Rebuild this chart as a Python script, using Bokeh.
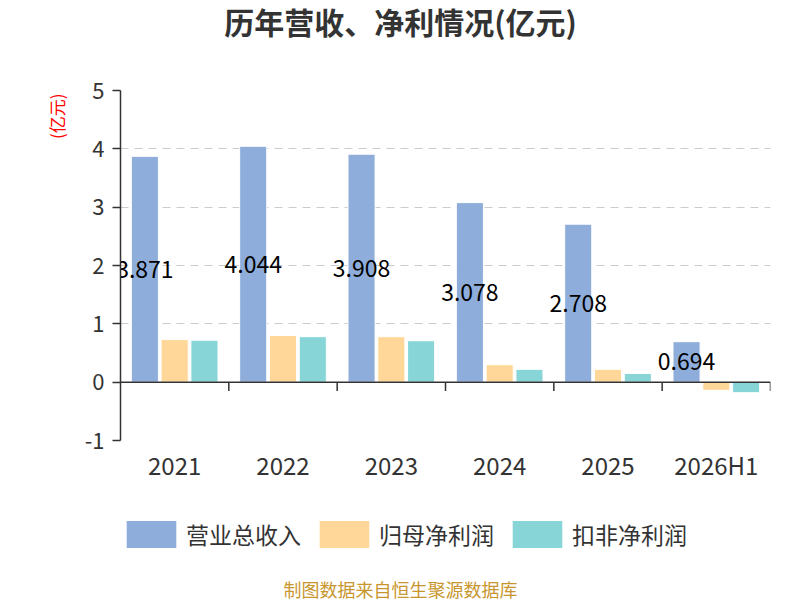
from bokeh.plotting import figure
from bokeh.layouts import column
from bokeh.models import (ColumnDataSource, FactorRange, Range1d, Span, Label,
                          Legend, LegendItem, SingleIntervalTicker, Title)
from bokeh.transform import dodge
from bokeh.core.properties import value
from bokeh.embed import file_html
from bokeh.resources import INLINE

years = ["2021", "2022", "2023", "2024", "2025", "2026H1"]
revenue = [3.871, 4.044, 3.908, 3.078, 2.708, 0.694]
net_profit = [0.73, 0.80, 0.78, 0.30, 0.22, -0.14]
deducted_profit = [0.72, 0.78, 0.71, 0.22, 0.15, -0.18]
series_names = ["营业总收入", "归母净利润", "扣非净利润"]
colors = ["#8EADDB", "#FFD899", "#88D5D8"]
title_text = "历年营收、净利情况(亿元)"
unit_text = "(亿元)"
source_text = "制图数据来自恒生聚源数据库"

FONT = "Noto Sans CJK SC"
W = 800
LEFT, RIGHT = 120, 30          # frame borders (shared by all three strips)
FX = Range1d(LEFT, W - RIGHT)   # pixel-like x range for the text strips

# ---------- top strip: title ----------
TOP_H = 60
p_top = figure(width=W, height=TOP_H, x_range=FX, y_range=Range1d(0, TOP_H),
               x_axis_type=None, y_axis_type=None, output_backend="svg",
               toolbar_location=None, min_border=0,
               min_border_left=LEFT, min_border_right=RIGHT)
p_top.outline_line_color = None
p_top.grid.visible = False
p_top.add_layout(Label(x=W / 2, y=TOP_H - 20, text=title_text, text_align="center",
                       text_baseline="middle", text_font_size="30px",
                       text_font_style="bold", text_color="#333333",
                       text_font=FONT))

# ---------- main chart ----------
src = ColumnDataSource(dict(
    year=years, rev=revenue, np=net_profit, kf=deducted_profit,
    half=[v / 2 for v in revenue],
    lbl=[f"{v:.3f}" for v in revenue],
))

p = figure(width=W, height=435,
           x_range=FactorRange(*years), y_range=Range1d(-1, 5),
           output_backend="svg", toolbar_location=None,
           min_border_left=LEFT, min_border_right=RIGHT,
           min_border_top=30, min_border_bottom=55)
p.outline_line_color = None
p.xgrid.grid_line_color = None
p.ygrid.grid_line_color = "#cccccc"
p.ygrid.grid_line_dash = "8 6"
p.ygrid.grid_line_width = 1.2

p.yaxis.ticker = SingleIntervalTicker(interval=1)
p.yaxis.major_label_overrides = {-1: "-1"}
p.yaxis.axis_line_color = "#333333"
p.yaxis.axis_line_width = 1.5
p.yaxis.major_tick_line_color = "#333333"
p.yaxis.major_tick_line_width = 1.5
p.yaxis.major_tick_out = 8
p.yaxis.major_tick_in = 0
p.yaxis.minor_tick_line_color = None
p.yaxis.major_label_text_font_size = "22px"
p.yaxis.major_label_text_color = "#333333"
p.yaxis.major_label_text_font = FONT
p.yaxis.major_label_standoff = 8

p.xaxis.axis_line_color = None
p.xaxis.major_tick_line_color = None
p.xaxis.minor_tick_line_color = None
p.xaxis.major_label_text_font_size = "24px"
p.xaxis.major_label_text_color = "#333333"
p.xaxis.major_label_text_font = FONT
p.xaxis.major_label_standoff = 0

p.add_layout(Title(text=unit_text, align="right", offset=3, text_color="red",
                   text_font_size="17px", text_font_style="normal",
                   text_font=FONT, vertical_align="middle", standoff=24), "left")

w = 0.25
p.vbar(x=dodge("year", -0.275, range=p.x_range), top="rev", width=w, source=src,
       fill_color=colors[0], line_color="white", line_width=1)
p.vbar(x=dodge("year", 0.0, range=p.x_range), top="np", width=w, source=src,
       fill_color=colors[1], line_color="white", line_width=1)
p.vbar(x=dodge("year", 0.275, range=p.x_range), top="kf", width=w, source=src,
       fill_color=colors[2], line_color="white", line_width=1)

p.add_layout(Span(location=0, dimension="width", line_color="#333333", line_width=1.5))
bounds = list(range(1, len(years) + 1))
p.segment(x0=bounds, y0=[0] * len(bounds), x1=bounds, y1=[-0.15] * len(bounds),
          line_color="#333333", line_width=1.5)

p.text(x=dodge("year", -0.275, range=p.x_range), y="half", text="lbl", source=src,
       text_align="center", text_baseline="middle", text_font_size="23px",
       text_color="black", text_font=value(FONT))

# ---------- bottom strip: legend + source ----------
BOT_H = 105
p_bot = figure(width=W, height=BOT_H, x_range=FX, y_range=Range1d(0, BOT_H),
               x_axis_type=None, y_axis_type=None, output_backend="svg",
               toolbar_location=None, min_border=0,
               min_border_left=LEFT, min_border_right=RIGHT)
p_bot.outline_line_color = None
p_bot.grid.visible = False
items = []
for name, c in zip(series_names, colors):
    # zero-height legend proxies (off the visible range) carrying each series' style
    r = p_bot.vbar(x=[0], top=[0], width=1, fill_color=c, line_color=None)
    items.append(LegendItem(label=name, renderers=[r]))
legend = Legend(items=items, orientation="horizontal", location=(0, 49),
                label_text_font_size="23px", label_text_color="#333333",
                label_text_font=FONT, glyph_width=62, glyph_height=34,
                spacing=12, label_standoff=4, border_line_color=None,
                background_fill_alpha=0, padding=0, margin=0)
p_bot.add_layout(legend, "center")
p_bot.add_layout(Label(x=W / 2, y=12, text=source_text, text_align="center",
                       text_baseline="middle", text_font_size="18px",
                       text_color="#C8962E", text_font=FONT))

open("out.html", "w").write(file_html(column(p_top, p, p_bot), INLINE))
